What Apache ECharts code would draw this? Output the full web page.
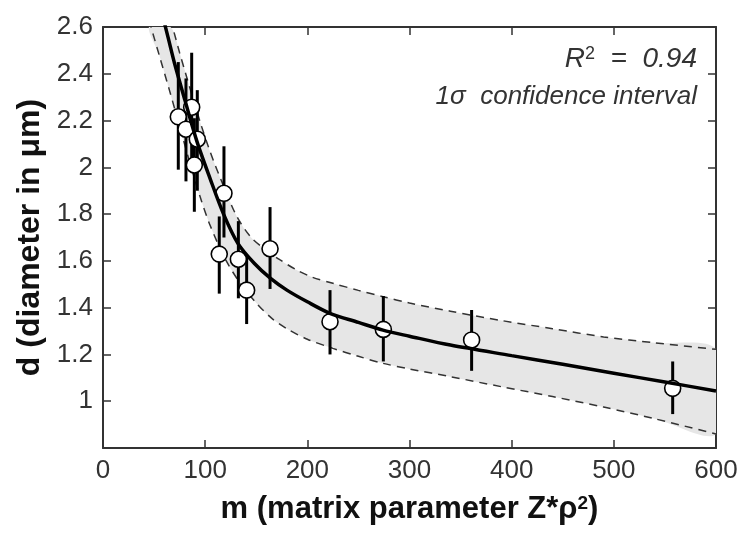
<!DOCTYPE html>
<html>
<head>
<meta charset="utf-8">
<script src="https://cdn.jsdelivr.net/npm/echarts@6/dist/echarts.min.js"></script>
<style>
html, body { margin: 0; padding: 0; background: #fff; }
#chart { width: 743px; height: 534px; }
</style>
</head>
<body>
<div id="chart"></div>
<script>
// measured points (m, d) with error bar ends
let mValues = [73.7, 81.2, 86.8, 89.4, 92.3, 113.8, 118.4, 132.5, 140.6, 163.5, 222.2, 274.4, 360.8, 557.6];
let dValues = [2.216, 2.163, 2.257, 2.01, 2.12, 1.629, 1.889, 1.607, 1.475, 1.652, 1.34, 1.307, 1.262, 1.055];
let dLow    = [1.99, 1.94, 2.03, 1.81, 1.90, 1.46, 1.70, 1.44, 1.33, 1.48, 1.20, 1.17, 1.13, 0.945];
let dHigh   = [2.45, 2.38, 2.49, 2.21, 2.33, 1.79, 2.09, 1.77, 1.62, 1.83, 1.475, 1.45, 1.39, 1.17];

// fitted curve
let fitM = [58, 64, 70, 80, 92, 105, 118, 132, 148, 164, 180, 200, 222, 250, 274, 300, 340, 400, 450, 500, 550, 600];
let fitD = [2.655, 2.55, 2.445, 2.29, 2.11, 1.95, 1.80, 1.675, 1.59, 1.525, 1.475, 1.425, 1.376, 1.337, 1.304, 1.278, 1.24, 1.195, 1.158, 1.12, 1.082, 1.044];

// 1 sigma confidence band
let upperM = [66, 75, 85, 95, 105, 118, 131, 145, 160, 173, 190, 205, 225, 250, 274, 300, 340, 390, 440, 490, 540, 600];
let upperD = [2.635, 2.49, 2.34, 2.195, 2.065, 1.92, 1.79, 1.70, 1.645, 1.605, 1.56, 1.53, 1.504, 1.474, 1.447, 1.42, 1.385, 1.345, 1.31, 1.275, 1.25, 1.222];
let lowerM = [45, 55, 65, 75, 85, 95, 105, 120, 135, 150, 165, 180, 200, 225, 250, 274, 300, 340, 390, 440, 490, 540, 600];
let lowerD = [2.63, 2.48, 2.33, 2.175, 2.02, 1.875, 1.75, 1.605, 1.50, 1.42, 1.355, 1.31, 1.265, 1.226, 1.192, 1.162, 1.138, 1.105, 1.062, 1.02, 0.975, 0.925, 0.86];

let font = 'Liberation Sans';
let axisColor = '#333';

let myChart = echarts.init(document.getElementById('chart'));

function renderBand(params, api) {
    let pts = [];
    upperM.forEach((m, i) => pts.push(api.coord([m, upperD[i]])));
    for (let i = lowerM.length - 1; i >= 0; i--) {
        pts.push(api.coord([lowerM[i], lowerD[i]]));
    }
    let cs = params.coordSys;
    return {
        type: 'polygon',
        shape: { points: echarts.graphic.clipPointsByRect(pts, { x: cs.x, y: cs.y, width: cs.width, height: cs.height }), smooth: 0.3 },
        style: { fill: '#e6e6e6' }
    };
}

function renderErrorBar(params, api) {
    let x = api.value(0);
    let p1 = api.coord([x, api.value(1)]);
    let p2 = api.coord([x, api.value(2)]);
    return {
        type: 'line',
        shape: { x1: p1[0], y1: p1[1], x2: p2[0], y2: p2[1] },
        style: { stroke: '#000', lineWidth: 3 }
    };
}

function axisBase(pos, showLabel) {
    return {
        type: 'value',
        position: pos,
        gridIndex: 0,
        axisLine: { show: true, onZero: false, lineStyle: { color: axisColor, width: 2 } },
        axisTick: { show: true, inside: true, length: 8, lineStyle: { color: axisColor, width: 1.5 } },
        splitLine: { show: false },
        axisLabel: { show: showLabel, color: '#333', fontSize: 26, fontFamily: font, margin: 10 }
    };
}

let xBottom = Object.assign(axisBase('bottom', true), {
    min: 0, max: 600, interval: 100,
    name: 'm (matrix parameter Z*ρ{sup|2})',
    nameLocation: 'middle',
    nameGap: 46,
    nameTextStyle: {
        color: '#111', fontSize: 31, fontWeight: 'bold', fontFamily: font,
        rich: { sup: { fontSize: 19, fontWeight: 'bold', fontFamily: font, color: '#111', verticalAlign: 'top' } }
    }
});
let xTop = Object.assign(axisBase('top', false), { min: 0, max: 600, interval: 100 });

let yLeft = Object.assign(axisBase('left', true), {
    min: 0.8, max: 2.6, interval: 0.2,
    name: 'd (diameter in μm)',
    nameLocation: 'middle',
    nameGap: 55,
    nameRotate: 90,
    nameTextStyle: { color: '#111', fontSize: 32, fontWeight: 'bold', fontFamily: font }
});
yLeft.axisLabel.formatter = v => (v < 0.9 ? '' : String(+v.toFixed(1)));
let yRight = Object.assign(axisBase('right', false), { min: 0.8, max: 2.6, interval: 0.2 });

let option = {
    animation: false,
    backgroundColor: '#fff',
    grid: { left: 103, right: 27, top: 27, bottom: 86, containLabel: false },
    xAxis: [xBottom, xTop],
    yAxis: [yLeft, yRight],
    graphic: [
        {
            type: 'text', x: 697, y: 59, z: 10,
            style: {
                text: 'R{sup|2}  =  0.94', align: 'right', verticalAlign: 'middle',
                fontSize: 28, fontStyle: 'italic', fontFamily: font, fill: '#333',
                rich: { sup: { fontSize: 18, fontFamily: font, fill: '#333', verticalAlign: 'top' } }
            }
        },
        {
            type: 'text', x: 697, y: 97, z: 10,
            style: {
                text: '1σ  confidence interval', align: 'right', verticalAlign: 'middle',
                fontSize: 26, fontStyle: 'italic', fontFamily: font, fill: '#333'
            }
        }
    ],
    series: [
        {
            type: 'custom', name: 'band', z: 1, clip: true, silent: true,
            renderItem: renderBand,
            data: [[300, 1.5]]
        },
        {
            type: 'line', name: 'upper', z: 2, showSymbol: false, smooth: 0.3,
            lineStyle: { color: '#333', width: 1.5, type: [8, 6] },
            data: upperM.map((m, i) => [m, upperD[i]])
        },
        {
            type: 'line', name: 'lower', z: 2, showSymbol: false, smooth: 0.3,
            lineStyle: { color: '#333', width: 1.5, type: [8, 6] },
            data: lowerM.map((m, i) => [m, lowerD[i]])
        },
        {
            type: 'custom', name: 'error', z: 3,
            renderItem: renderErrorBar,
            data: mValues.map((m, i) => [m, dLow[i], dHigh[i]])
        },
        {
            type: 'scatter', name: 'data', z: 4,
            symbol: 'circle', symbolSize: 16,
            itemStyle: { color: '#fff', borderColor: '#000', borderWidth: 1.6, opacity: 1 },
            data: mValues.map((m, i) => [m, dValues[i]])
        },
        {
            type: 'line', name: 'fit', z: 5, showSymbol: false, smooth: 0.3,
            lineStyle: { color: '#000', width: 3.5 },
            data: fitM.map((m, i) => [m, fitD[i]])
        }
    ]
};

myChart.setOption(option);
</script>
</body>
</html>
